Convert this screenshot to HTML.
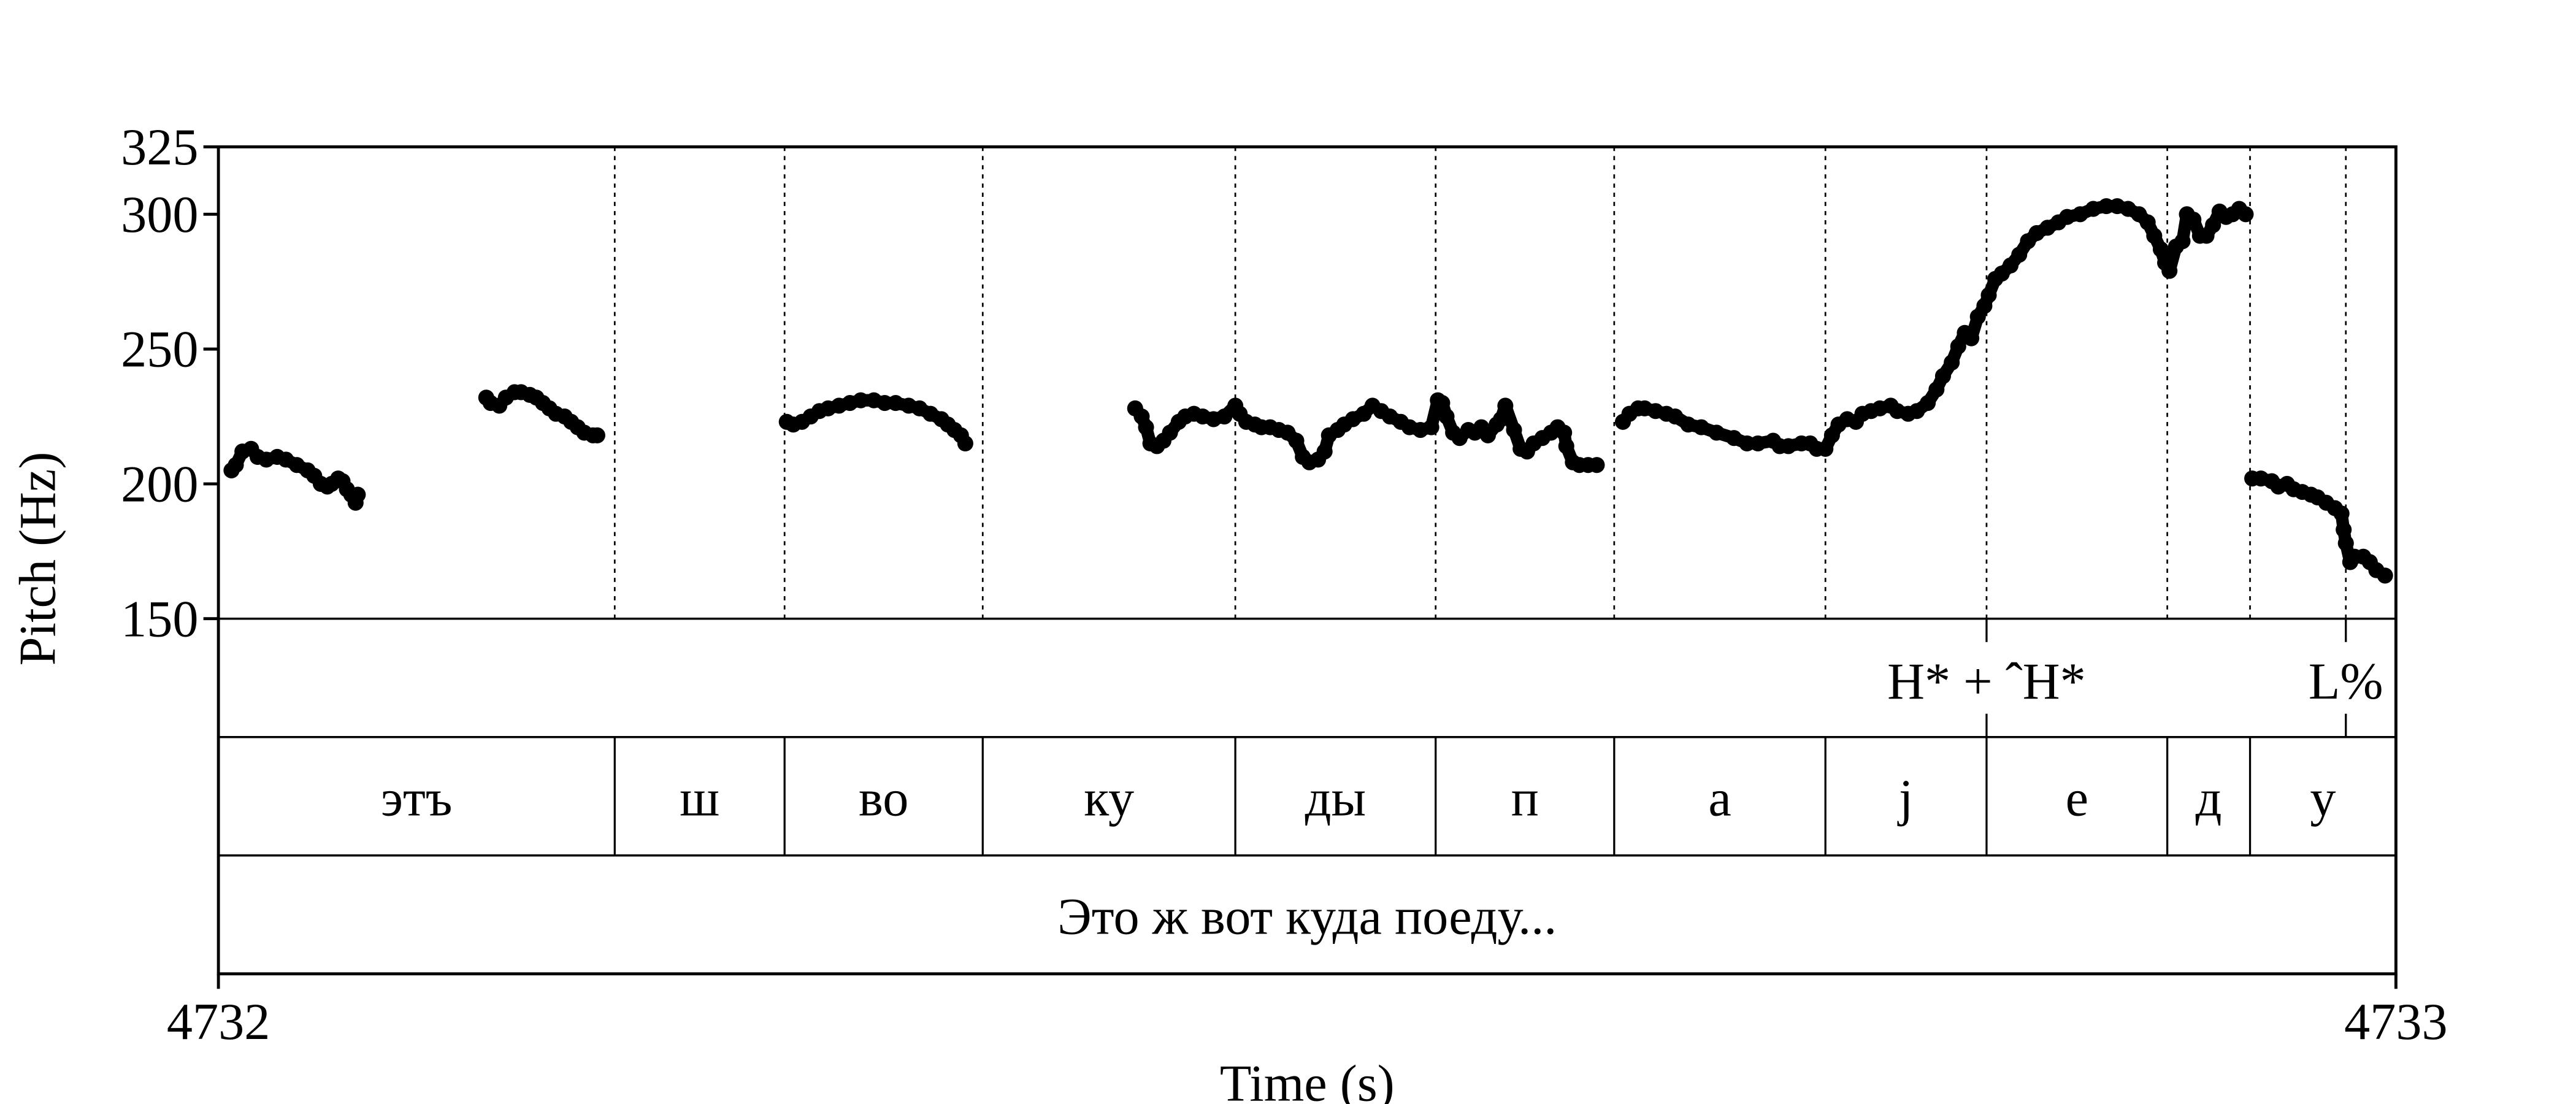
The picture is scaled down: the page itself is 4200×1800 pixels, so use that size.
<!DOCTYPE html>
<html><head><meta charset="utf-8"><style>
html,body{margin:0;padding:0;background:#fff;}
svg{display:block;}
text{font-family:"Liberation Serif","DejaVu Serif",serif;fill:#000;}
</style></head><body>
<svg id="chart" width="4200" height="1800" viewBox="0 0 1545 662" xmlns="http://www.w3.org/2000/svg"></svg>
<script>
// ---- data ----
const seg1T=[6,8,11,15,18,22,27,31,36,41,44,47,50,52,55,57,59,61,63,64];
const seg1F=[205,207,212,213,210,209,210,209,207,205,203,200,199,200,202,201,198,196,193,196];
const seg2T=[123,125,129,132,136,139,143,146,149,152,155,159,162,165,168,172,174];
const seg2F=[232,230,229,232,234,234,233,232,230,228,226,225,223,221,219,218,218];
const seg3T=[261,264,268,272,276,280,285,290,295,301,306,311,317,322,327,332,335,338,341,343];
const seg3F=[223,222,223,225,227,228,229,230,231,231,230,230,229,228,226,224,222,220,218,215];
const seg4T=[421,424,426,428,431,434,437,441,444,448,452,457,462,467,469,472,476,479,483,487,491,495,498,501,505,508,510,514,517,521,526,530,534,538,543,547,552,557,560,562,564,567,570,574,577,580,583,587,589,591,595,598,601,604,608,612,615,618,619,622,625,629,633];
const seg4F=[228,225,221,215,214,216,219,223,225,226,225,224,225,229,226,223,222,221,221,220,219,216,210,208,209,212,218,220,222,224,226,229,227,225,223,221,220,221,231,230,225,219,217,220,219,221,218,222,224,229,220,213,212,215,217,219,221,219,214,208,207,207,207];
const seg5T=[645,648,652,655,660,665,669,675,681,688,696,702,707,714,717,721,727,731,734,738,741,744,748,752,755,759,763,768,771,776,780,785,789,792,796,799,802,805,808,811,813,816,819,823,827,831,835,840,845,849,855,861,867,872,877,882,886,889,892,894,896,899,902,904,907,910,913,916,919,922,925,928,931];
const seg5F=[223,226,228,228,227,226,225,222,221,219,217,215,215,216,214,214,215,215,213,213,218,222,224,223,226,227,228,229,227,226,227,230,235,240,245,251,256,254,262,266,270,276,278,281,285,290,293,295,297,299,300,302,303,303,302,300,297,292,287,282,279,288,290,300,298,292,292,296,301,299,300,302,300];
const seg6T=[934,938,943,946,950,953,957,961,964,968,972,975,976,977,979,981,985,988,991,995];
const seg6F=[202,202,201,199,200,198,197,196,195,193,191,189,183,178,171,173,173,171,168,166];
const boundaries=[182,260,351,467,559,641,738,812,895,933];
const segLabels=["этъ","ш","во","ку","ды","п","а","j","е","д","у"];
const tonePoints=[812,977];
const toneLabels=["H* + ˆH*","L%"];
const sentence="Это ж вот куда поеду...";
const yTicks=[150,200,250,300,325];
const xTickLabels=["4732","4733"];
// ---- layout ----
const L=131,R=1437,T=88,P=371,T1=442,T2=513,B=584;
const yMin=150,yMax=325;
const FS=31;
const xs=ms=>L+(ms/1000)*(R-L);
const ys=hz=>P-(hz-yMin)/(yMax-yMin)*(P-T);
const NS="http://www.w3.org/2000/svg";
const svg=document.getElementById('chart');
function mk(tag,attrs,parent){const e=document.createElementNS(NS,tag);for(const k in attrs)e.setAttribute(k,attrs[k]);(parent||svg).appendChild(e);return e;}

const allB=boundaries.concat([tonePoints[1]]);
allB.forEach(b=>{
  const ln=mk('line',{x1:xs(b),x2:xs(b),y1:T,y2:P,stroke:'#000','stroke-width':1,'stroke-dasharray':'2.5 3'});
  
  
});
boundaries.forEach(b=>{
  const ln=mk('line',{x1:xs(b),x2:xs(b),y1:T1,y2:T2,stroke:'#000','stroke-width':1.2});
  
  
});
tonePoints.forEach((t,i)=>{
  mk('line',{x1:xs(t),x2:xs(t),y1:P,y2:P+14,stroke:'#000','stroke-width':1.2});
  mk('line',{x1:xs(t),x2:xs(t),y1:T1-14,y2:T1,stroke:'#000','stroke-width':1.2});
  const tx=mk('text',{x:xs(t),y:419,'font-size':FS,'text-anchor':'middle'});
  tx.textContent=toneLabels[i];
  
  
});
const edges=[0].concat(boundaries,[1000]);
segLabels.forEach((s,i)=>{
  const tx=mk('text',{x:(xs(edges[i])+xs(edges[i+1]))/2,y:489,'font-size':FS,'text-anchor':'middle'});
  tx.textContent=s;
  
  
});
const st=mk('text',{x:(L+R)/2,y:560,'font-size':FS,'text-anchor':'middle'});
st.textContent=sentence;



[P,T1,T2].forEach(y=>{
  const ln=mk('line',{x1:L,x2:R,y1:y,y2:y,stroke:'#000','stroke-width':1.3});
  
  
});
const fr=mk('rect',{x:L,y:T,width:R-L,height:B-T,fill:'none',stroke:'#000','stroke-width':1.8});



yTicks.forEach(v=>{
  mk('line',{x1:L-9,x2:L,y1:ys(v),y2:ys(v),stroke:'#000','stroke-width':1.8});
  const tx=mk('text',{x:L-12,y:ys(v)+10.5,'font-size':FS,'text-anchor':'end'});
  tx.textContent=v;
  
  
});
[L,R].forEach((x,i)=>{
  mk('line',{x1:x,x2:x,y1:B,y2:B+9,stroke:'#000','stroke-width':1.8});
  const tx=mk('text',{x:x,y:623,'font-size':FS,'text-anchor':'middle'});
  tx.textContent=xTickLabels[i];
  
  
});
const xt=mk('text',{x:784,y:660,'font-size':FS,'text-anchor':'middle'});
xt.textContent="Time (s)";


const yt=mk('text',{x:0,y:0,'font-size':FS,'text-anchor':'middle',transform:'translate(33,335) rotate(-90)'});
yt.textContent="Pitch (Hz)";



const segs=[[seg1T,seg1F],[seg2T,seg2F],[seg3T,seg3F],[seg4T,seg4F],[seg5T,seg5F],[seg6T,seg6F]];
segs.forEach(([tt,ff])=>{
  const g=mk('g',{});
  
  
  mk('polyline',{points:tt.map((t,i)=>xs(t)+','+ys(ff[i])).join(' '),fill:'none',stroke:'#000','stroke-width':7.5,'stroke-linejoin':'round','stroke-linecap':'round'},g);
  tt.forEach((t,i)=>{
    const c=mk('circle',{cx:xs(t),cy:ys(ff[i]),r:4.8,fill:'#000'},g);
    
    
  });
});
</script>
</body></html>
